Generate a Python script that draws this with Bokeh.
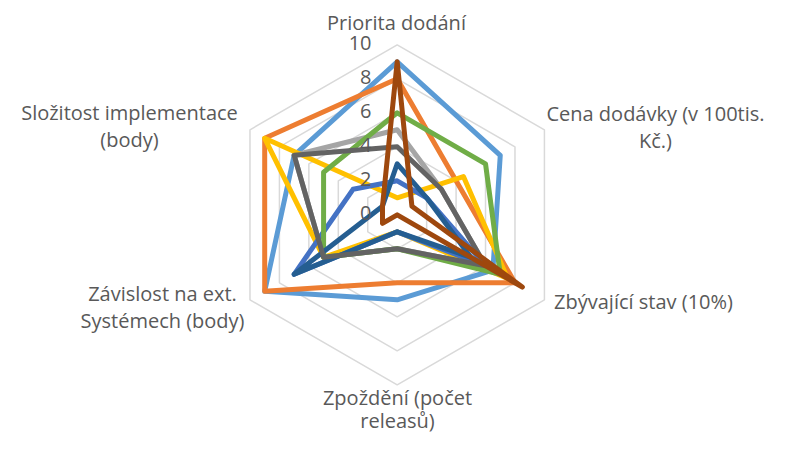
import numpy as np
from bokeh.plotting import figure
from bokeh.models import Range1d
from bokeh.core.properties import value
from bokeh.embed import file_html
from bokeh.resources import INLINE

# ---- data ----
categories = ["Priorita dodání", "Cena dodávky (v 100tis.\nKč.)", "Zbývající stav (10%)",
              "Zpoždění (počet\nreleasů)", "Závislost na ext.\nSystémech (body)",
              "Složitost implementace\n(body)"]
ticks = [0, 2, 4, 6, 8, 10]

s1 = [9, 7, 6.5, 5, 9, 7]      # light blue
s2 = [8, 4, 8, 4, 9, 9]        # orange
s3 = [5, 3, 6, 2, 5, 7]        # light gray
s4 = [1, 4.5, 7.5, 1, 5, 9]    # gold
s5 = [2, 2, 6, 1, 7, 3]        # blue
s6 = [6, 6, 7, 2, 5, 5]        # green
s7 = [3, 2, 5, 1, 7, 1]        # dark blue
s8 = [4, 3, 6, 2, 5, 7]        # dark gray
s9 = [9, 1, 8.5, 0, 1, 1]      # brown

series = [s1, s2, s3, s4, s5, s6, s7, s8, s9]
colors = ["#5B9BD5", "#ED7D31", "#A5A5A5", "#FFC000", "#4472C4", "#70AD47",
          "#255E91", "#636363", "#9E480E"]

# ---- layout ----
PX = 17.0              # pixels per unit
CX, CY = 396.7, 214.3  # centre in picture pixels
W, H = 769, 435
FONT = value("Open Sans")
FSIZE = "20px"
TXT = "#595959"

def to_data(x, y):
    return (x - CX) / PX, (CY - y) / PX

angles = np.deg2rad([90, 30, -30, -90, -150, 150])

x0, y0 = to_data(0, 0)
x1, y1 = to_data(W, H)

p = figure(width=W, height=H, output_backend="svg", toolbar_location=None,
           x_range=Range1d(x0, x1), y_range=Range1d(y1, y0),
           min_border=0, outline_line_color=None, background_fill_color="white",
           border_fill_color="white")
p.axis.visible = False
p.xgrid.visible = False
p.ygrid.visible = False

# grid rings
for r in ticks[1:]:
    p.patch(r * np.cos(angles), r * np.sin(angles), fill_color=None,
            line_color="#D9D9D9", line_width=1.5)

# series
for vals, c in zip(series, colors):
    v = np.array(vals, dtype=float)
    p.patch(v * np.cos(angles), v * np.sin(angles), fill_color=None,
            line_color=c, line_width=5, line_join="round")

# tick labels
tx, _ = to_data(371, 0)
p.text(x=[tx] * len(ticks), y=[t + 0.1 for t in ticks], text=[str(t) for t in ticks],
       text_align="right", text_baseline="middle", text_font=FONT,
       text_font_size=FSIZE, text_color=TXT)

# category labels (one text per line)
label_pos = [(396, 22, 27), (655, 113, 27), (643, 301, 27), (397, 397, 23),
             (162, 293, 27), (129, 112, 27)]
lx, ly, lt = [], [], []
for cat, (px, py, step) in zip(categories, label_pos):
    for i, line in enumerate(cat.split("\n")):
        dx, dy = to_data(px, py + i * step)
        lx.append(dx); ly.append(dy); lt.append(line)
p.text(x=lx, y=ly, text=lt, text_align="center", text_baseline="middle",
       text_font=FONT, text_font_size=FSIZE, text_color=TXT)

open("out.html", "w").write(file_html(p, INLINE))
